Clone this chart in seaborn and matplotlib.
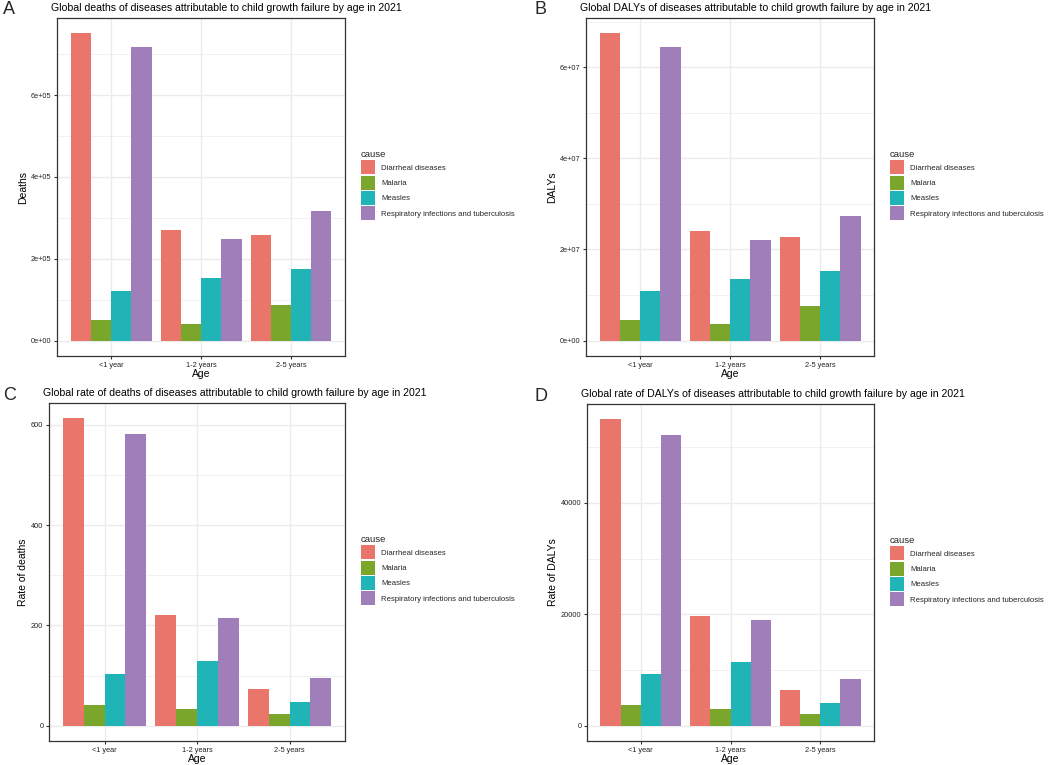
import numpy as np
import pandas as pd
import seaborn as sns
import matplotlib.pyplot as plt
from matplotlib.ticker import FixedLocator, FuncFormatter
from matplotlib.patches import Patch

ages = ['<1 year', '1-2 years', '2-5 years']
causes = ['Diarrheal diseases', 'Malaria', 'Measles',
          'Respiratory infections and tuberculosis']
colors = ['#EA756B', '#7AA62B', '#20B4B7', '#A07EBA']

# values per cause, in age order
deaths = {
    'Diarrheal diseases': [7.51e5, 2.70e5, 2.59e5],
    'Malaria': [0.50e5, 0.41e5, 0.86e5],
    'Measles': [1.21e5, 1.53e5, 1.76e5],
    'Respiratory infections and tuberculosis': [7.17e5, 2.49e5, 3.16e5],
}
dalys = {
    'Diarrheal diseases': [6.74e7, 2.41e7, 2.28e7],
    'Malaria': [0.46e7, 0.37e7, 0.76e7],
    'Measles': [1.08e7, 1.36e7, 1.52e7],
    'Respiratory infections and tuberculosis': [6.43e7, 2.21e7, 2.74e7],
}
rate_deaths = {
    'Diarrheal diseases': [613, 221, 73],
    'Malaria': [41, 34, 23],
    'Measles': [104, 128, 48],
    'Respiratory infections and tuberculosis': [582, 214, 96],
}
rate_dalys = {
    'Diarrheal diseases': [55000, 19700, 6400],
    'Malaria': [3650, 3000, 2100],
    'Measles': [9200, 11400, 4100],
    'Respiratory infections and tuberculosis': [52200, 18900, 8400],
}

sns.set_theme(style='white')
plt.rcParams['font.family'] = ['Liberation Sans', 'DejaVu Sans']

W, H = 1052, 765
fig = plt.figure(figsize=(W / 100, H / 100), dpi=100)


def to_df(d):
    rows = []
    for c in causes:
        for a, v in zip(ages, d[c]):
            rows.append({'Age': a, 'cause': c, 'value': v})
    return pd.DataFrame(rows)


def sci(v, pos):
    return f"{v:.0e}"


def panel(box, d, ylab, title, letter, major, fmt, leg_y):
    x0, y0, x1, y1 = box
    ax = fig.add_axes([x0 / W, 1 - y1 / H, (x1 - x0) / W, (y1 - y0) / H])
    df = to_df(d)
    sns.barplot(data=df, x='Age', y='value', hue='cause', order=ages,
                hue_order=causes, palette=colors, width=0.9, gap=0,
                saturation=1, errorbar=None, ax=ax, legend=False,
                linewidth=0, zorder=3)
    vmax = df['value'].max()
    ax.set_ylim(-0.05 * vmax, 1.05 * vmax)
    ax.set_xlim(-0.6, 2.6)
    step = major[1] - major[0]
    minor = [m + step / 2 for m in major] + [major[0] - step / 2]
    ax.yaxis.set_major_locator(FixedLocator(major))
    ax.yaxis.set_minor_locator(FixedLocator(minor))
    ax.yaxis.set_major_formatter(FuncFormatter(fmt))
    ax.grid(True, which='major', color='#EBEBEB', lw=1.0, zorder=0)
    ax.grid(True, which='minor', axis='y', color='#EBEBEB', lw=0.5, zorder=0)
    ax.set_axisbelow(True)
    for s in ax.spines.values():
        s.set_color('#333333')
        s.set_linewidth(0.9)
    ax.tick_params(axis='both', which='major', length=2.5, width=0.8,
                   color='#333333', labelsize=5.3, labelcolor='#222222',
                   pad=1.5, left=True, bottom=True)
    ax.tick_params(axis='y', which='minor', length=0)
    ax.set_xlabel('Age', fontsize=7.5, labelpad=0.5, color='black')
    ax.set_ylabel(ylab, fontsize=7.5, labelpad=2, color='black')
    fig.text((x0 - 6) / W, 1 - (y0 - 10) / H, title, fontsize=7.6,
             va='center', ha='left', color='black')
    lx = 3 if letter in 'AC' else 534
    fig.text(lx / W, 1 - (y0 - 8) / H, letter, fontsize=13,
             va='center', ha='left')
    handles = [Patch(facecolor=c, edgecolor='none') for c in colors]
    leg = fig.legend(handles, causes, title='cause', loc='upper left',
                     bbox_to_anchor=((x1 + 16) / W, 1 - leg_y / H),
                     frameon=False, fontsize=5.6, title_fontsize=6.8,
                     handlelength=1.8, handleheight=2.4, handletextpad=0.8,
                     labelspacing=0.17, borderaxespad=0, borderpad=0)
    leg._legend_box.align = 'left'
    return ax


panel((57, 18, 345, 356), deaths, 'Deaths',
      'Global deaths of diseases attributable to child growth failure by age in 2021',
      'A', [0, 2e5, 4e5, 6e5], sci, 150)
panel((586, 18, 874, 356), dalys, 'DALYs',
      'Global DALYs of diseases attributable to child growth failure by age in 2021',
      'B', [0, 2e7, 4e7, 6e7], sci, 150)
panel((49, 403, 345, 741), rate_deaths, 'Rate of deaths',
      'Global rate of deaths of diseases attributable to child growth failure by age in 2021',
      'C', [0, 200, 400, 600], lambda v, p: f"{v:.0f}", 535)
panel((587, 404, 874, 741), rate_dalys, 'Rate of DALYs',
      'Global rate of DALYs of diseases attributable to child growth failure by age in 2021',
      'D', [0, 20000, 40000], lambda v, p: f"{v:.0f}", 536)

fig.savefig('out.png', dpi=100, facecolor='white')
